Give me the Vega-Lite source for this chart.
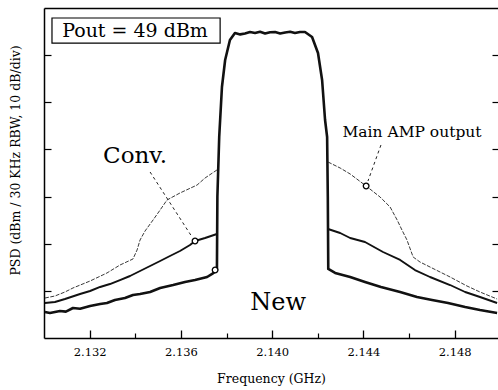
{
  "$schema": "https://vega.github.io/schema/vega-lite/v6.json",
  "autosize": "none",
  "width": 454,
  "height": 330,
  "padding": {"left": 44, "top": 8, "right": 0, "bottom": 52},
  "background": "white",
  "config": {
    "view": {"stroke": null},
    "axis": {"domainColor": "black", "tickColor": "black", "grid": false, "labelColor": "black", "titleColor": "black", "labelFont": "DejaVu Serif", "titleFont": "DejaVu Serif", "titleFontWeight": "normal"},
    "text": {"font": "DejaVu Serif", "color": "black"}
  },
  "datasets": {
    "traces": [
      {"s": "New", "p": "A", "f": 2.13004, "v": 5.52}, {"s": "New", "p": "A", "f": 2.13026, "v": 5.30}, {"s": "New", "p": "A", "f": 2.13048, "v": 5.52}, {"s": "New", "p": "A", "f": 2.13070, "v": 5.73}, {"s": "New", "p": "A", "f": 2.13096, "v": 5.60}, {"s": "New", "p": "A", "f": 2.13127, "v": 6.36}, {"s": "New", "p": "A", "f": 2.13158, "v": 6.20}, {"s": "New", "p": "A", "f": 2.13202, "v": 6.79}, {"s": "New", "p": "A", "f": 2.13246, "v": 7.21}, {"s": "New", "p": "A", "f": 2.13276, "v": 7.42}, {"s": "New", "p": "A", "f": 2.13311, "v": 8.06}, {"s": "New", "p": "A", "f": 2.13355, "v": 8.48}, {"s": "New", "p": "A", "f": 2.13390, "v": 9.12}, {"s": "New", "p": "A", "f": 2.13421, "v": 9.33}, {"s": "New", "p": "A", "f": 2.13465, "v": 9.76}, {"s": "New", "p": "A", "f": 2.13509, "v": 10.61}, {"s": "New", "p": "A", "f": 2.13566, "v": 11.24}, {"s": "New", "p": "A", "f": 2.13618, "v": 11.88}, {"s": "New", "p": "A", "f": 2.13662, "v": 12.30}, {"s": "New", "p": "A", "f": 2.13715, "v": 12.94}, {"s": "New", "p": "A", "f": 2.13737, "v": 13.58}, {"s": "New", "p": "A", "f": 2.13758, "v": 14.42}, {"s": "New", "p": "A", "f": 2.13760, "v": 30.0}, {"s": "New", "p": "A", "f": 2.13768, "v": 42.64}, {"s": "New", "p": "A", "f": 2.13780, "v": 53.24}, {"s": "New", "p": "A", "f": 2.13794, "v": 58.97}, {"s": "New", "p": "A", "f": 2.13815, "v": 63.21}, {"s": "New", "p": "A", "f": 2.13837, "v": 64.70}, {"s": "New", "p": "A", "f": 2.13860, "v": 64.40}, {"s": "New", "p": "A", "f": 2.13881, "v": 64.60}, {"s": "New", "p": "A", "f": 2.13903, "v": 64.90}, {"s": "New", "p": "A", "f": 2.13925, "v": 64.70}, {"s": "New", "p": "A", "f": 2.13947, "v": 64.95}, {"s": "New", "p": "A", "f": 2.13969, "v": 64.60}, {"s": "New", "p": "A", "f": 2.13991, "v": 64.85}, {"s": "New", "p": "A", "f": 2.14013, "v": 64.90}, {"s": "New", "p": "A", "f": 2.14035, "v": 64.60}, {"s": "New", "p": "A", "f": 2.14057, "v": 64.80}, {"s": "New", "p": "A", "f": 2.14079, "v": 64.95}, {"s": "New", "p": "A", "f": 2.14100, "v": 64.70}, {"s": "New", "p": "A", "f": 2.14122, "v": 64.90}, {"s": "New", "p": "A", "f": 2.14144, "v": 64.90}, {"s": "New", "p": "A", "f": 2.14175, "v": 63.85}, {"s": "New", "p": "A", "f": 2.14201, "v": 60.45}, {"s": "New", "p": "A", "f": 2.14219, "v": 54.73}, {"s": "New", "p": "A", "f": 2.14232, "v": 46.24}, {"s": "New", "p": "A", "f": 2.14241, "v": 42.64}, {"s": "New", "p": "A", "f": 2.14244, "v": 30.0}, {"s": "New", "p": "A", "f": 2.14246, "v": 14.64}, {"s": "New", "p": "A", "f": 2.14276, "v": 13.79}, {"s": "New", "p": "A", "f": 2.14342, "v": 12.94}, {"s": "New", "p": "A", "f": 2.14407, "v": 11.88}, {"s": "New", "p": "A", "f": 2.14477, "v": 10.82}, {"s": "New", "p": "A", "f": 2.14561, "v": 9.76}, {"s": "New", "p": "A", "f": 2.14635, "v": 8.70}, {"s": "New", "p": "A", "f": 2.14701, "v": 8.06}, {"s": "New", "p": "A", "f": 2.14771, "v": 7.42}, {"s": "New", "p": "A", "f": 2.14846, "v": 6.58}, {"s": "New", "p": "A", "f": 2.14911, "v": 5.94}, {"s": "New", "p": "A", "f": 2.14986, "v": 5.30},

      {"s": "Conv", "p": "L", "f": 2.13004, "v": 7.42}, {"s": "Conv", "p": "L", "f": 2.13048, "v": 7.64}, {"s": "Conv", "p": "L", "f": 2.13092, "v": 8.27}, {"s": "Conv", "p": "L", "f": 2.13158, "v": 9.33}, {"s": "Conv", "p": "L", "f": 2.13202, "v": 9.97}, {"s": "Conv", "p": "L", "f": 2.13246, "v": 10.82}, {"s": "Conv", "p": "L", "f": 2.13289, "v": 11.45}, {"s": "Conv", "p": "L", "f": 2.13333, "v": 12.30}, {"s": "Conv", "p": "L", "f": 2.13377, "v": 13.15}, {"s": "Conv", "p": "L", "f": 2.13421, "v": 14.21}, {"s": "Conv", "p": "L", "f": 2.13465, "v": 15.27}, {"s": "Conv", "p": "L", "f": 2.13509, "v": 16.33}, {"s": "Conv", "p": "L", "f": 2.13552, "v": 17.39}, {"s": "Conv", "p": "L", "f": 2.13596, "v": 18.45}, {"s": "Conv", "p": "L", "f": 2.13640, "v": 19.73}, {"s": "Conv", "p": "L", "f": 2.13662, "v": 20.58}, {"s": "Conv", "p": "L", "f": 2.13706, "v": 21.21}, {"s": "Conv", "p": "L", "f": 2.13758, "v": 22.06},
      {"s": "Conv", "p": "R", "f": 2.14245, "v": 23.12}, {"s": "Conv", "p": "R", "f": 2.14298, "v": 22.27}, {"s": "Conv", "p": "R", "f": 2.14342, "v": 21.21}, {"s": "Conv", "p": "R", "f": 2.14407, "v": 20.36}, {"s": "Conv", "p": "R", "f": 2.14486, "v": 18.24}, {"s": "Conv", "p": "R", "f": 2.14561, "v": 16.55}, {"s": "Conv", "p": "R", "f": 2.14626, "v": 14.42}, {"s": "Conv", "p": "R", "f": 2.14692, "v": 12.94}, {"s": "Conv", "p": "R", "f": 2.14780, "v": 11.24}, {"s": "Conv", "p": "R", "f": 2.14846, "v": 9.76}, {"s": "Conv", "p": "R", "f": 2.14911, "v": 8.70}, {"s": "Conv", "p": "R", "f": 2.14986, "v": 7.42},

      {"s": "Main", "p": "L", "f": 2.13004, "v": 8.48}, {"s": "Main", "p": "L", "f": 2.13048, "v": 8.91}, {"s": "Main", "p": "L", "f": 2.13092, "v": 9.76}, {"s": "Main", "p": "L", "f": 2.13127, "v": 10.61}, {"s": "Main", "p": "L", "f": 2.13202, "v": 12.09}, {"s": "Main", "p": "L", "f": 2.13276, "v": 13.79}, {"s": "Main", "p": "L", "f": 2.13333, "v": 15.48}, {"s": "Main", "p": "L", "f": 2.13390, "v": 16.76}, {"s": "Main", "p": "L", "f": 2.13408, "v": 18.67}, {"s": "Main", "p": "L", "f": 2.13421, "v": 20.79}, {"s": "Main", "p": "L", "f": 2.13443, "v": 22.70}, {"s": "Main", "p": "L", "f": 2.13478, "v": 25.03}, {"s": "Main", "p": "L", "f": 2.13509, "v": 27.15}, {"s": "Main", "p": "L", "f": 2.13539, "v": 29.27}, {"s": "Main", "p": "L", "f": 2.13596, "v": 30.76}, {"s": "Main", "p": "L", "f": 2.13671, "v": 32.45}, {"s": "Main", "p": "L", "f": 2.13706, "v": 33.94}, {"s": "Main", "p": "L", "f": 2.13758, "v": 35.64},
      {"s": "Main", "p": "R", "f": 2.14245, "v": 37.33}, {"s": "Main", "p": "R", "f": 2.14298, "v": 36.06}, {"s": "Main", "p": "R", "f": 2.14342, "v": 34.79}, {"s": "Main", "p": "R", "f": 2.14412, "v": 32.24}, {"s": "Main", "p": "R", "f": 2.14473, "v": 29.91}, {"s": "Main", "p": "R", "f": 2.14517, "v": 27.79}, {"s": "Main", "p": "R", "f": 2.14548, "v": 25.03}, {"s": "Main", "p": "R", "f": 2.14569, "v": 22.91}, {"s": "Main", "p": "R", "f": 2.14591, "v": 20.79}, {"s": "Main", "p": "R", "f": 2.14618, "v": 17.18}, {"s": "Main", "p": "R", "f": 2.14648, "v": 16.12}, {"s": "Main", "p": "R", "f": 2.14692, "v": 15.06}, {"s": "Main", "p": "R", "f": 2.14780, "v": 12.94}, {"s": "Main", "p": "R", "f": 2.14854, "v": 11.03}, {"s": "Main", "p": "R", "f": 2.14911, "v": 9.76}, {"s": "Main", "p": "R", "f": 2.14986, "v": 8.27}
    ],
    "markers": [
      {"s": "Conv", "f": 2.13662, "v": 20.58},
      {"s": "New", "f": 2.13750, "v": 14.42},
      {"s": "Main", "f": 2.14412, "v": 32.24}
    ],
    "leaders": [
      {"s": "Conv", "f": 2.13465, "v": 35.21, "f2": 2.13649, "v2": 21.42},
      {"s": "Main", "f": 2.14477, "v": 40.94, "f2": 2.14420, "v2": 33.3}
    ],
    "box": [
      {"x1": 2.13035, "x2": 2.13772, "y1": 67.88, "y2": 62.57}
    ]
  },
  "resolve": {"axis": {"x": "independent", "y": "independent"}},
  "layer": [
    {
      "data": {"name": "box"},
      "mark": {"type": "rect", "fill": "white", "stroke": "black", "strokeWidth": 1.2},
      "encoding": {
        "x": {"field": "x1", "type": "quantitative",
          "scale": {"domain": [2.13, 2.1499], "nice": false, "zero": false},
          "axis": {"orient": "bottom", "values": [2.132, 2.136, 2.140, 2.144, 2.148], "format": ".3f", "ticks": false, "domain": true, "domainWidth": 1.5, "labelFontSize": 11.5, "labelBaseline": "alphabetic", "labelPadding": 17, "title": "Frequency (GHz)", "titleFontSize": 12.5, "titleBaseline": "alphabetic", "titleAlign": "center", "titleX": 227, "titleY": 44}},
        "x2": {"field": "x2"},
        "y": {"field": "y1", "type": "quantitative",
          "scale": {"domain": [0, 70], "nice": false, "zero": false},
          "axis": {"orient": "left", "values": [10, 20, 30, 40, 50, 60], "tickSize": -7, "tickWidth": 1.2, "labels": false, "domain": true, "domainWidth": 1.5, "title": "PSD (dBm / 30 KHz RBW, 10 dB/div)", "titleFontSize": 12.5, "titleAngle": 270, "titleAlign": "center", "titleBaseline": "middle", "titleX": -29, "titleY": 152}},
        "y2": {"field": "y2"}
      }
    },
    {
      "data": {"name": "traces"},
      "transform": [{"filter": "datum.s === 'New'"}],
      "mark": {"type": "line", "color": "#111", "strokeWidth": 2.6, "strokeJoin": "round"},
      "encoding": {
        "x": {"field": "f", "type": "quantitative",
          "scale": {"domain": [2.13, 2.1499], "nice": false, "zero": false},
          "axis": {"orient": "bottom", "values": [2.132, 2.136, 2.140, 2.144, 2.148], "tickSize": -8, "tickWidth": 1.3, "labels": false, "domain": false, "title": null}},
        "y": {"field": "v", "type": "quantitative",
          "scale": {"domain": [0, 70], "nice": false, "zero": false},
          "axis": {"orient": "right", "values": [10, 20, 30, 40, 50, 60], "tickSize": -6, "tickWidth": 1.2, "labels": false, "domain": false, "title": null}}
      }
    },
    {
      "data": {"name": "traces"},
      "transform": [{"filter": "datum.s === 'Conv'"}],
      "mark": {"type": "line", "color": "#111", "strokeWidth": 1.9, "strokeJoin": "round"},
      "encoding": {
        "x": {"field": "f", "type": "quantitative",
          "scale": {"domain": [2.13, 2.1499], "nice": false, "zero": false},
          "axis": {"orient": "bottom", "values": [2.134, 2.138, 2.142, 2.146], "tickSize": -5, "tickWidth": 1.2, "labels": false, "domain": false, "title": null}},
        "y": {"field": "v", "type": "quantitative", "scale": {"domain": [0, 70], "nice": false, "zero": false}, "axis": null},
        "detail": {"field": "p"}
      }
    },
    {
      "data": {"name": "traces"},
      "transform": [{"filter": "datum.s === 'Main'"}],
      "mark": {"type": "line", "color": "#222", "strokeWidth": 0.9, "strokeDash": [4, 1.5]},
      "encoding": {
        "x": {"field": "f", "type": "quantitative",
          "scale": {"domain": [2.13, 2.1499], "nice": false, "zero": false},
          "axis": {"orient": "top", "ticks": false, "labels": false, "domain": true, "domainWidth": 1.5, "title": null}},
        "y": {"field": "v", "type": "quantitative", "scale": {"domain": [0, 70], "nice": false, "zero": false}, "axis": null},
        "detail": {"field": "p"}
      }
    },
    {
      "data": {"name": "leaders"},
      "mark": {"type": "rule", "color": "#222", "strokeWidth": 1, "strokeDash": [3, 3]},
      "encoding": {
        "x": {"field": "f", "type": "quantitative", "scale": {"domain": [2.13, 2.1499], "nice": false, "zero": false}, "axis": null},
        "x2": {"field": "f2"},
        "y": {"field": "v", "type": "quantitative", "scale": {"domain": [0, 70], "nice": false, "zero": false}, "axis": null},
        "y2": {"field": "v2"}
      }
    },
    {
      "data": {"name": "markers"},
      "mark": {"type": "point", "shape": "circle", "size": 32, "filled": true, "fill": "white", "stroke": "black", "strokeWidth": 1.3, "opacity": 1},
      "encoding": {
        "x": {"field": "f", "type": "quantitative", "scale": {"domain": [2.13, 2.1499], "nice": false, "zero": false}, "axis": null},
        "y": {"field": "v", "type": "quantitative", "scale": {"domain": [0, 70], "nice": false, "zero": false}, "axis": null}
      }
    },
    {
      "data": {"values": [{"t": "Pout = 49 dBm", "f": 2.13399, "v": 63.85}]},
      "mark": {"type": "text", "fontSize": 19, "align": "center", "baseline": "alphabetic"},
      "encoding": {
        "x": {"field": "f", "type": "quantitative", "scale": {"domain": [2.13, 2.1499], "nice": false, "zero": false}, "axis": null},
        "y": {"field": "v", "type": "quantitative", "scale": {"domain": [0, 70], "nice": false, "zero": false}, "axis": null},
        "text": {"field": "t"}
      }
    },
    {
      "data": {"values": [{"t": "Conv.", "f": 2.13399, "v": 37.12}]},
      "mark": {"type": "text", "fontSize": 23, "align": "center", "baseline": "alphabetic"},
      "encoding": {
        "x": {"field": "f", "type": "quantitative", "scale": {"domain": [2.13, 2.1499], "nice": false, "zero": false}, "axis": null},
        "y": {"field": "v", "type": "quantitative", "scale": {"domain": [0, 70], "nice": false, "zero": false}, "axis": null},
        "text": {"field": "t"}
      }
    },
    {
      "data": {"values": [{"t": "Main AMP output", "f": 2.14613, "v": 42.64}]},
      "mark": {"type": "text", "fontSize": 15.5, "align": "center", "baseline": "alphabetic"},
      "encoding": {
        "x": {"field": "f", "type": "quantitative", "scale": {"domain": [2.13, 2.1499], "nice": false, "zero": false}, "axis": null},
        "y": {"field": "v", "type": "quantitative", "scale": {"domain": [0, 70], "nice": false, "zero": false}, "axis": null},
        "text": {"field": "t"}
      }
    },
    {
      "data": {"values": [{"t": "New", "f": 2.14026, "v": 5.94}]},
      "mark": {"type": "text", "fontSize": 24, "align": "center", "baseline": "alphabetic"},
      "encoding": {
        "x": {"field": "f", "type": "quantitative", "scale": {"domain": [2.13, 2.1499], "nice": false, "zero": false}, "axis": null},
        "y": {"field": "v", "type": "quantitative", "scale": {"domain": [0, 70], "nice": false, "zero": false}, "axis": null},
        "text": {"field": "t"}
      }
    }
  ]
}
